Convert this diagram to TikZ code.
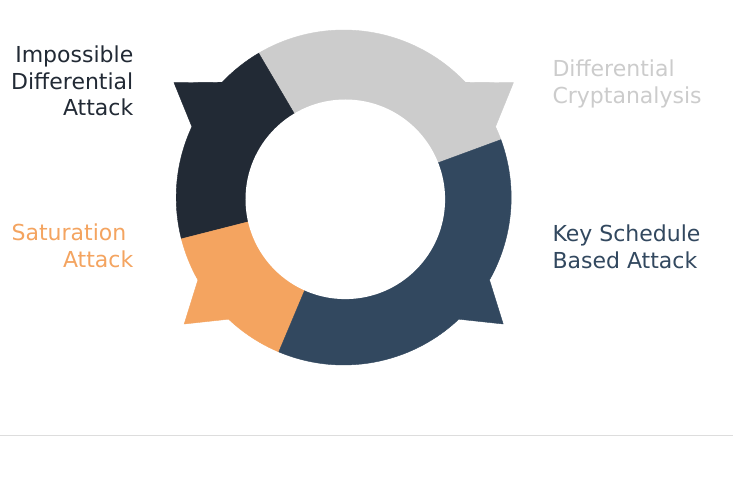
\documentclass[tikz,border=0pt]{standalone}
\usepackage{fontspec}
\setmainfont{DejaVu Sans}
\usepackage{xcolor}
\usepackage{tikz}

\definecolor{darkseg}{HTML}{222A35}
\definecolor{grayseg}{HTML}{CCCCCC}
\definecolor{blueseg}{HTML}{32485F}
\definecolor{orangeseg}{HTML}{F4A460}
\definecolor{ruleline}{HTML}{DDDDDD}

\begin{document}
\begin{tikzpicture}[x=1pt, y=1pt,
  seg/.style={line width=0.4pt},
  lbl/.style={inner sep=0pt, font=\fontsize{22}{26.4}\selectfont},
  lbll/.style={lbl, anchor=base east, align=right},
  lblr/.style={lbl, anchor=base west, align=left}]
  \def\R{167.5pt}
  \fill[white] (-343.7,-289.5) rectangle (389.3,197.5);
  \useasboundingbox (-343.7,-289.5) rectangle (389.3,197.5);

  \filldraw[seg, fill=grayseg, draw=grayseg] (0,0) -- (20.2:\R) arc[start angle=20.2, end angle=25, radius=\R]
    -- (169.7,114.8) -- (43.5:\R) arc[start angle=43.5, end angle=120.5, radius=\R] -- cycle;
  \filldraw[seg, fill=darkseg, draw=darkseg] (0,0) -- (120.5:\R) arc[start angle=120.5, end angle=136.5, radius=\R]
    -- (-169.7,114.8) -- (155:\R) arc[start angle=155, end angle=194.3, radius=\R] -- cycle;
  \filldraw[seg, fill=orangeseg, draw=orangeseg] (0,0) -- (194.3:\R) arc[start angle=194.3, end angle=209.5, radius=\R]
    -- (-159.5,-126.5) -- (226.6:\R) arc[start angle=226.6, end angle=247.2, radius=\R] -- cycle;
  \filldraw[seg, fill=blueseg, draw=blueseg] (0,0) -- (247.2:\R) arc[start angle=247.2, end angle=313.4, radius=\R]
    -- (159.5,-126.5) -- (330.5:\R) arc[start angle=330.5, end angle=380.2, radius=\R] -- cycle;
  \fill[white] (1.6,-1.8) circle[radius=99.8pt];

  \node[lbll, text=darkseg] (impdiff) at (-210.2,81.7) {Impossible\\Differential\\Attack};
  \node[lbll, text=orangeseg] (saturation) at (-210.2,-69.8) {Saturation\kern0.32em\\Attack};
  \node[lblr, text=grayseg] (diffcrypt) at (208.6,94.4) {Differential\\Cryptanalysis};
  \node[lblr, text=blueseg] (keysched) at (208.6,-70.6) {Key Schedule\\Based Attack};

  \draw[ruleline, line width=1pt] (-343.7,-237.5) -- (389.3,-237.5);
\end{tikzpicture}
\end{document}
